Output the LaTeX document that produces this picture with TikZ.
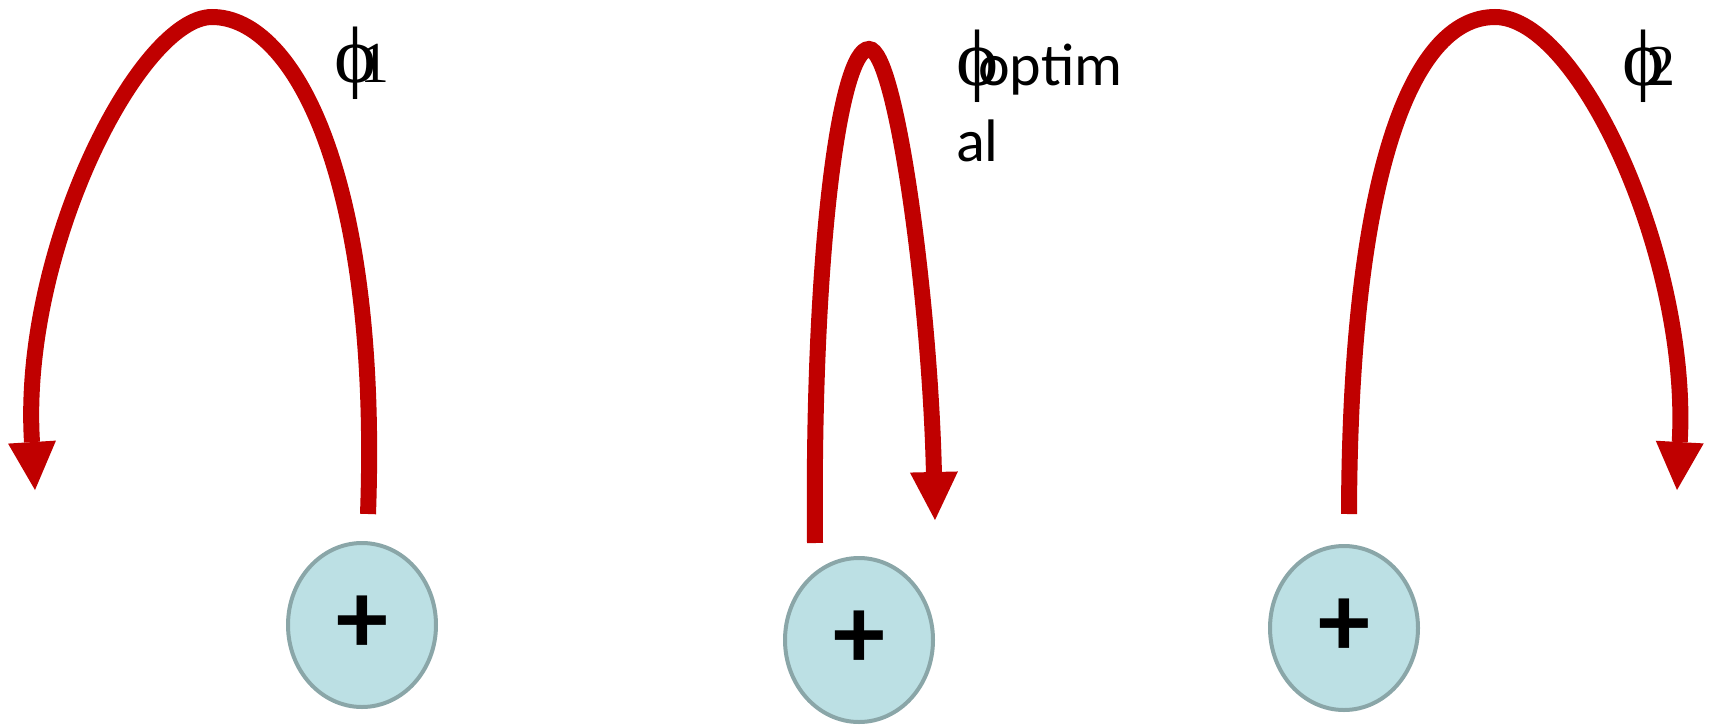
\documentclass[tikz,border=0pt]{standalone}
\usepackage{fontspec}
\setmainfont{Carlito}
\newfontfamily\phifam{Liberation Serif}
\usetikzlibrary{arrows.meta,shapes.geometric}
\definecolor{arrred}{HTML}{C00000}
\definecolor{cellfill}{HTML}{BCE0E4}
\definecolor{celldraw}{HTML}{8AA6A8}
\newcommand{\phisym}{{\phifam\fontsize{80}{80}\selectfont ϕ}}
\begin{document}
\begin{tikzpicture}[x=1pt,y=-1pt,
  cell/.style={ellipse, draw=celldraw, fill=cellfill, line width=4pt,
    minimum width=148pt, minimum height=164pt, inner sep=0pt,
    font=\fontsize{104}{104}\selectfont\bfseries},
  flow/.style={draw=arrred, line width=16pt,
    -{Triangle[width=48pt,length=48pt,line width=0pt]}},
  lab/.style={anchor=base west, inner sep=0pt,
    font=\fontsize{60}{76}\selectfont, align=left}]
\useasboundingbox (0,0) rectangle (1709,726);
% cells
\node[cell] (c1) at (362,625) {\raisebox{-5pt}{+}};
\node[cell] (c2) at (859,640) {\raisebox{-5pt}{+}};
\node[cell] (c3) at (1344,628) {\raisebox{-5pt}{+}};
% arrow ends
\coordinate (s1) at (368,514);
\coordinate (t1) at (212,17);
\coordinate (e1) at (35,490);
\coordinate (s2) at (815,543);
\coordinate (t2) at (869,49);
\coordinate (e2) at (935,520);
\coordinate (s3) at (1349,514);
\coordinate (t3) at (1495,17);
\coordinate (e3) at (1677,490);
\draw[flow] (s1) .. controls (380,180) and (295,17) .. (t1)
  .. controls (140,17) and (20,250) .. (e1);
\draw[flow] (s2) .. controls (812,250) and (840,49) .. (t2)
  .. controls (896,49) and (930,300) .. (e2);
\draw[flow] (s3) .. controls (1350,180) and (1410,17) .. (t3)
  .. controls (1580,17) and (1690,260) .. (e3);
% labels
\node[lab] (l1) at (334,82) {\phisym\kern-16pt{\phifam\fontsize{58}{58}\selectfont 1}};
\node[lab] (l2) at (956,161) {\phisym\kern-20pt optim\\al};
\node[lab] (l3) at (1622,85) {\phisym\kern-18pt{\phifam\fontsize{58}{58}\selectfont 2}};
\end{tikzpicture}
\end{document}
